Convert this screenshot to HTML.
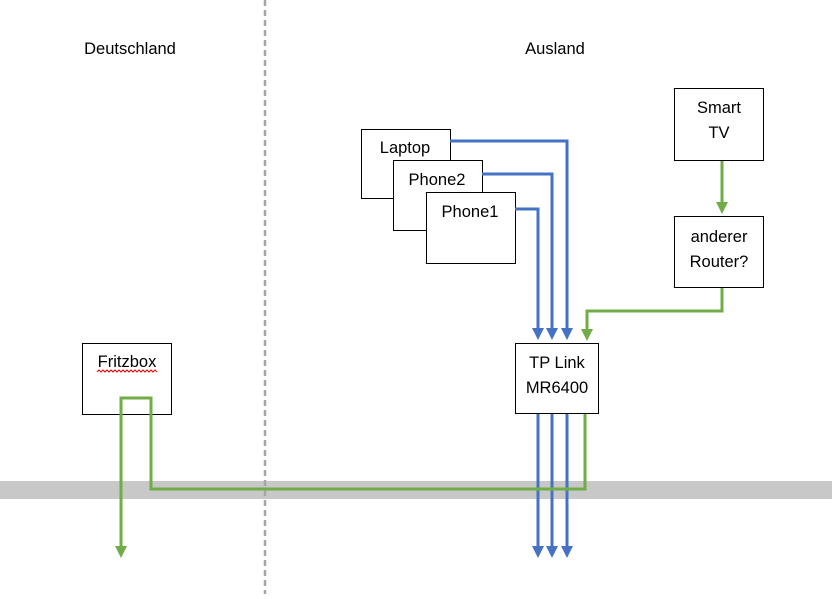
<!DOCTYPE html>
<html><head><style>
body{margin:0;width:832px;height:594px;overflow:hidden;background:#fff;font-family:"Liberation Sans",sans-serif}
</style></head><body>
<svg width="832" height="594" xmlns="http://www.w3.org/2000/svg" font-family="Liberation Sans, sans-serif" font-size="16.5">
<defs>
<marker id="ab" markerWidth="4" markerHeight="4" refX="2" refY="2" orient="auto" markerUnits="strokeWidth"><path d="M0,0 L4,2 L0,4 z" fill="#4472c4"/></marker>
<marker id="ag" markerWidth="4" markerHeight="4" refX="2" refY="2" orient="auto" markerUnits="strokeWidth"><path d="M0,0 L4,2 L0,4 z" fill="#70ad47"/></marker>
</defs>
<rect x="0" y="481" width="832" height="18" fill="#c8c8c8"/>
<line x1="265" y1="0" x2="265" y2="594" stroke="#a6a6a6" stroke-width="2.5" stroke-dasharray="6,4"/>
<text x="130" y="54" text-anchor="middle">Deutschland</text>
<text x="555" y="54" text-anchor="middle">Ausland</text>
<g fill="#fff" stroke="#000" stroke-width="1">
<rect x="361.5" y="129.5" width="89" height="69"/>
<rect x="393.5" y="160.5" width="89" height="70"/>
<rect x="426.5" y="192.5" width="89" height="71"/>
<rect x="515.5" y="343.5" width="83" height="70"/>
<rect x="674.5" y="88.5" width="89" height="72"/>
<rect x="674.5" y="216.5" width="89" height="71"/>
<rect x="82.5" y="343.5" width="89" height="71"/>
</g>
<g fill="#000" text-anchor="middle">
<text x="405" y="153">Laptop</text>
<text x="437" y="185">Phone2</text>
<text x="470" y="217">Phone1</text>
<text x="557" y="368">TP Link</text>
<text x="557" y="393">MR6400</text>
<text x="719" y="113">Smart</text>
<text x="719" y="138">TV</text>
<text x="719" y="242">anderer</text>
<text x="719" y="267">Router?</text>
<text x="127" y="367">Fritzbox</text>
</g>
<path d="M97,372 l2,-2 2,2 2,-2 2,2 2,-2 2,2 2,-2 2,2 2,-2 2,2 2,-2 2,2 2,-2 2,2 2,-2 2,2 2,-2 2,2 2,-2 2,2 2,-2 2,2 2,-2 2,2 2,-2 2,2 2,-2 2,2 2,-2 2,2" fill="none" stroke="#e00" stroke-width="1"/>
<g fill="none" stroke="#4472c4" stroke-width="3">
<path d="M450,141 H567 V334" marker-end="url(#ab)"/>
<path d="M482,174 H552 V334" marker-end="url(#ab)"/>
<path d="M515,209 H538 V334" marker-end="url(#ab)"/>
<path d="M538,414 V552" marker-end="url(#ab)"/>
<path d="M552,414 V552" marker-end="url(#ab)"/>
<path d="M567,414 V552" marker-end="url(#ab)"/>
</g>
<g fill="none" stroke="#70ad47" stroke-width="3">
<path d="M722,161 V208" marker-end="url(#ag)"/>
<path d="M722,288 V311 H587 V335" marker-end="url(#ag)"/>
<path d="M585,414 V489 H151 V398 H121 V552" marker-end="url(#ag)"/>
</g>
</svg>
</body></html>
